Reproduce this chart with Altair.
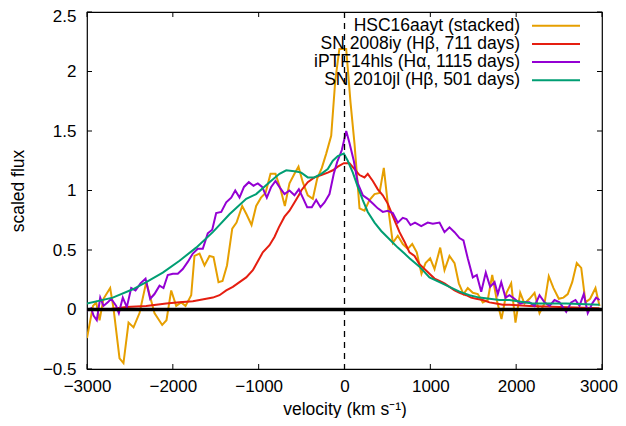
import altair as alt
import pandas as pd

# ---------------- data ----------------
v_hsc = [-3000, -2930, -2893, -2854, -2808, -2730, -2691, -2621, -2575, -2516, -2458, -2388,
         -2310, -2214, -2124, -2074, -2019, -1961, -1902, -1852, -1786, -1748, -1689, -1631,
         -1573, -1526, -1468, -1421, -1369, -1308, -1258, -1192, -1142, -1083, -1029, -973,
         -920, -862, -804, -749, -695, -641, -583, -536, -486, -428, -369, -318, -264, -213,
         -155, -108, -60, 20, 70, 117, 175, 233, 291, 350, 408, 458, 513, 563, 621, 679, 737,
         789, 842, 897, 944, 998, 1049, 1115, 1165, 1223, 1282, 1332, 1386, 1436, 1495, 1553,
         1611, 1669, 1721, 1774, 1829, 1887, 1942, 1992, 2047, 2097, 2155, 2214, 2272, 2330,
         2380, 2435, 2497, 2551, 2601, 2653, 2706, 2758, 2808, 2862, 2924, 2971]
f_hsc = [-0.24, 0.03, 0.06, -0.09, 0.09, 0.18, 0.01, -0.41, -0.45, -0.11, -0.15, -0.03,
         0.23, -0.03, -0.13, -0.09, 0.16, 0.03, 0.06, 0.03, 0.12, 0.45, 0.47, 0.37,
         0.45, 0.44, 0.23, 0.24, 0.37, 0.68, 0.73, 0.87, 0.80, 0.71, 0.87, 0.94,
         0.98, 1.14, 1.14, 1.02, 0.87, 1.06, 1.14, 1.20, 1.07, 0.96, 0.93, 1.10, 1.19, 1.31,
         1.46, 1.92, 2.19, 2.19, 1.74, 1.39, 0.85, 0.83, 0.92, 0.97, 0.98, 1.19, 0.83, 0.56, 0.62, 0.55, 0.51,
         0.55, 0.48, 0.30, 0.39, 0.43, 0.34, 0.52, 0.33, 0.45, 0.39, 0.22, 0.13, 0.18, 0.14, 0.13,
         0.06, 0.08, 0.29, 0.08, -0.08, 0.14, 0.22, -0.11, 0.14, 0.05, 0.09, 0.14, -0.03, 0.05,
         0.28, 0.18, 0.09, 0.10, 0.13, 0.23, 0.39, 0.35, 0.06, 0.09, 0.18, 0.03]

v_08iy = [-3000, -2770, -2543, -2310, -2077, -1922, -1767, -1611, -1534, -1456, -1378, -1301,
          -1223, -1145, -1068, -1029, -952, -874, -816, -765, -699, -641, -583, -524, -504,
          -428, -350, -271, -195, -136, -78, -8, 58, 117, 175, 233, 271, 330, 388, 446, 504,
          583, 641, 699, 757, 816, 874, 932, 990, 1049, 1107, 1165, 1223, 1282, 1340, 1418,
          1476, 1534, 1611, 1689, 1767, 1844, 1922, 2155, 2505, 2971]
f_08iy = [0.00, 0.00, 0.02, 0.03, 0.05, 0.06, 0.07, 0.09, 0.10, 0.12, 0.16, 0.19,
          0.23, 0.27, 0.33, 0.38, 0.48, 0.54, 0.61, 0.69, 0.78, 0.83, 0.90, 0.97, 1.00,
          1.07, 1.11, 1.13, 1.15, 1.17, 1.20, 1.23, 1.23, 1.18, 1.13, 1.11, 1.14, 1.08, 1.01, 0.96, 0.89,
          0.75, 0.65, 0.57, 0.48, 0.45, 0.38, 0.34, 0.30, 0.26, 0.24, 0.22, 0.19, 0.16, 0.14, 0.12,
          0.10, 0.09, 0.08, 0.06, 0.05, 0.04, 0.04, 0.03, 0.02, 0.01]

v_14hls = [-3000, -2951, -2924, -2886, -2846, -2808, -2758, -2718, -2660, -2629, -2583, -2536,
           -2485, -2435, -2377, -2318, -2264, -2214, -2155, -2109, -2059, -2000, -1942, -1884,
           -1826, -1767, -1709, -1651, -1593, -1541, -1495, -1436, -1378, -1320, -1273, -1223,
           -1171, -1115, -1060, -1010, -959, -905, -854, -804, -749, -699, -641, -583, -532,
           -486, -435, -381, -330, -280, -233, -175, -125, -85, -31, 20, 58, 108, 155, 213,
           271, 330, 388, 446, 504, 563, 621, 679, 722, 769, 821, 894, 970, 1029, 1107, 1165,
           1223, 1282, 1340, 1386, 1436, 1495, 1541, 1593, 1646, 1697, 1748, 1786, 1826, 1876,
           1922, 1980, 2047, 2097, 2155, 2214, 2272, 2330, 2388, 2447, 2505, 2583, 2641, 2691,
           2738, 2788, 2834, 2886, 2932, 2971]
f_14hls = [-0.01, 0.01, -0.05, -0.09, 0.10, 0.03, 0.06, 0.09, 0.03, -0.03, 0.10, 0.02,
           0.18, 0.16, 0.22, 0.26, 0.09, 0.13, 0.20, 0.18, 0.29, 0.30, 0.30, 0.34,
           0.40, 0.47, 0.51, 0.51, 0.64, 0.67, 0.81, 0.82, 0.90, 0.94, 1.00, 0.94,
           1.03, 1.07, 1.04, 1.06, 1.03, 0.94, 1.03, 1.08, 1.02, 0.97, 1.00, 0.96, 1.01,
           0.94, 0.86, 0.86, 0.92, 0.86, 0.90, 0.97, 1.14, 1.24, 1.34, 1.50, 1.40, 1.25, 1.06, 0.96,
           0.93, 0.89, 0.85, 0.82, 0.83, 0.81, 0.73, 0.77, 0.76, 0.71, 0.73, 0.70, 0.73, 0.72, 0.73, 0.65,
           0.69, 0.65, 0.60, 0.58, 0.43, 0.27, 0.29, 0.15, 0.31, 0.19, 0.23, 0.13, 0.23, 0.10,
           0.12, 0.09, 0.05, 0.06, 0.06, 0.03, 0.12, 0.06, 0.03, 0.08, 0.06, -0.02, 0.06, 0.08,
           0.03, 0.13, -0.03, 0.05, 0.10, 0.08]

v_10jl = [-3000, -2700, -2466, -2310, -2117, -1922, -1728, -1534, -1340, -1145, -1029, -874,
          -757, -679, -563, -504, -428, -350, -271, -195, -136, -78, -8, 38, 97, 155, 213,
          271, 350, 428, 524, 621, 699, 757, 874, 990, 1107, 1223, 1340, 1456, 1573, 1689,
          1806, 1922, 2190, 2583, 2971]
f_10jl = [0.05, 0.10, 0.17, 0.23, 0.31, 0.41, 0.52, 0.65, 0.80, 0.93, 0.97, 1.07,
          1.14, 1.17, 1.16, 1.15, 1.11, 1.11, 1.14, 1.18, 1.25, 1.29, 1.31, 1.25, 1.15, 1.03, 0.92,
          0.82, 0.73, 0.66, 0.59, 0.52, 0.47, 0.43, 0.36, 0.27, 0.23, 0.19, 0.15, 0.12, 0.10, 0.09,
          0.08, 0.08, 0.05, 0.05, 0.04]

labels = ["HSC16aayt (stacked)", "SN 2008iy (Hβ, 711 days)",
          "iPTF14hls (Hα, 1115 days)", "SN 2010jl (Hβ, 501 days)"]
colors = ["#e69f00", "#e51e10", "#9400d3", "#009e73"]

x_ticks = [-3000, -2000, -1000, 0, 1000, 2000, 3000]
y_ticks = [-0.5, 0, 0.5, 1, 1.5, 2, 2.5]

W, H = 515, 357
FONT = "Liberation Sans"
FS = 17
KFS = 17.5

xscale = alt.Scale(domain=[-3000, 3000], nice=False, zero=False)
yscale = alt.Scale(domain=[-0.5, 2.5], nice=False, zero=False)

series = [(v_hsc, f_hsc), (v_08iy, f_08iy), (v_14hls, f_14hls), (v_10jl, f_10jl)]

xaxis = alt.Axis(values=x_ticks, format="d", ticks=False, tickSize=0, domain=False, grid=False,
                 labelFlush=False, labelOverlap=False,
                 labelOffset=alt.condition("datum.value == 3000", alt.value(-3.5), alt.value(0)),
                 labelFontSize=FS, labelFont=FONT, labelColor="black", labelPadding=9,
                 title="velocity (km s⁻¹)", titleFont=FONT, titleFontSize=KFS,
                 titleFontWeight="normal", titleColor="black", titleY=45,
                 titleBaseline="alphabetic")
yaxis = alt.Axis(values=y_ticks, format="~g", ticks=False, tickSize=0, domain=False, grid=False,
                 labelFlush=False, labelOverlap=False,
                 labelOffset=alt.condition("datum.value == 2.5", alt.value(4), alt.value(0)),
                 labelFontSize=FS, labelFont=FONT, labelColor="black", labelPadding=11,
                 title="scaled flux", titleFont=FONT, titleFontSize=KFS,
                 titleFontWeight="normal", titleColor="black", titleX=-69, titleY=H / 2,
                 titleAlign="center", titleBaseline="middle")

X = lambda f: alt.X(f, scale=xscale, axis=xaxis)
Y = lambda f: alt.Y(f, scale=yscale, axis=yaxis)

layers = []
for i, (vv, ff) in enumerate(series):
    df = pd.DataFrame({"v": vv, "f": ff})
    layers.append(alt.Chart(df).mark_line(color=colors[i], strokeWidth=2, clip=True).encode(
        x=X("v:Q"), y=Y("f:Q"), order="v:Q"))

# zero line and dashed v=0 line
zero = alt.Chart(pd.DataFrame({"f": [0]})).mark_rule(color="black", strokeWidth=3.5).encode(
    y=Y("f:Q"), x=alt.value(0), x2=alt.value(W))
vline = alt.Chart(pd.DataFrame({"v": [0]})).mark_rule(color="black", strokeWidth=1.3,
                                                      strokeDash=[6, 5]).encode(
    x=X("v:Q"), y=alt.value(0), y2=alt.value(H))

# inward ticks on all four sides
xt = pd.DataFrame({"v": x_ticks})
yt = pd.DataFrame({"f": y_ticks})
tk = dict(color="black", strokeWidth=1)
tb = alt.Chart(xt).mark_rule(**tk).encode(x=X("v:Q"), y=alt.value(H), y2=alt.value(H - 5))
tt = alt.Chart(xt).mark_rule(**tk).encode(x=X("v:Q"), y=alt.value(0), y2=alt.value(5))
tl = alt.Chart(yt).mark_rule(**tk).encode(y=Y("f:Q"), x=alt.value(0), x2=alt.value(5))
tr = alt.Chart(yt).mark_rule(**tk).encode(y=Y("f:Q"), x=alt.value(W - 5), x2=alt.value(W))

# key (gnuplot style: text right-aligned, sample line to the right)
key = []
for i, lab in enumerate(labels):
    yy = 13.7 + 18.2 * i
    d = pd.DataFrame({"label": [lab]})
    key.append(alt.Chart(d).mark_text(align="right", baseline="middle", font=FONT, fontSize=KFS,
                                      color="black").encode(
        text="label:N", x=alt.value(433), y=alt.value(yy)))
    key.append(alt.Chart(d).mark_rule(color=colors[i], strokeWidth=2).encode(
        x=alt.value(445), x2=alt.value(493), y=alt.value(yy)))

chart = alt.layer(*layers, vline, zero, tb, tt, tl, tr, *key).properties(
    width=W, height=H,
    padding={"left": 79, "top": 4, "right": 16, "bottom": 49},
    autosize=alt.AutoSizeParams(type="none"),
    background="white",
).configure_view(stroke="black", strokeWidth=1.2)

chart.save("out.html", embed_options={"renderer": "svg", "actions": False})
